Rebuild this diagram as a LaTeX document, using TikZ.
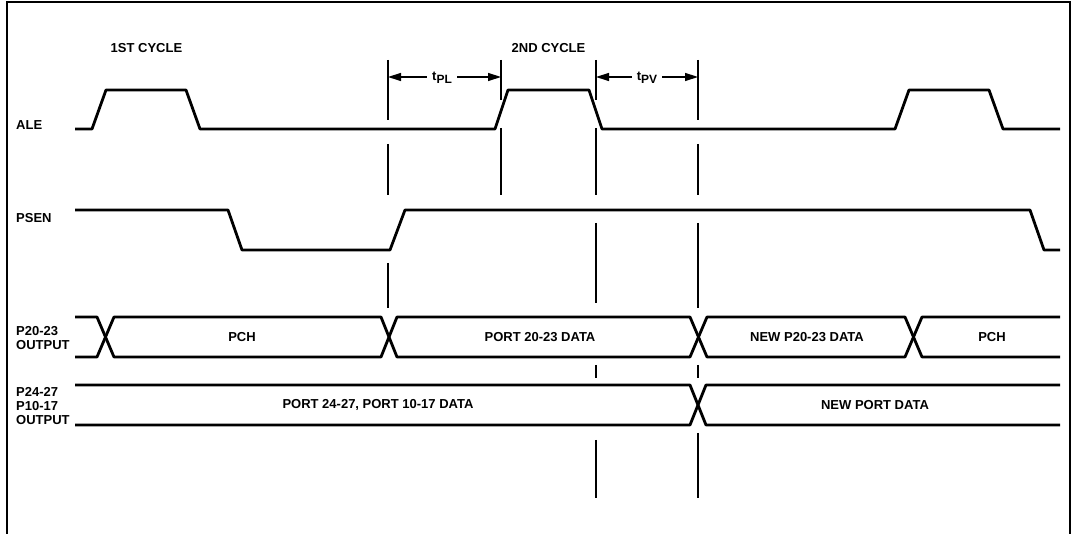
\documentclass[tikz,border=0pt]{standalone}
\usepackage{fontspec}
\setmainfont{Liberation Sans}
\usetikzlibrary{arrows.meta}
\begin{document}
\begin{tikzpicture}[x=1pt,y=-1pt,
  sig/.style={line width=2.8pt, line join=round, line cap=butt},
  vmark/.style={line width=1.5pt},
  frame/.style={line width=2.2pt},
  lbl/.style={font=\fontsize{13}{14}\selectfont\bfseries, inner sep=0pt},
  sidelbl/.style={lbl, anchor=west, align=left},
  dimarrow/.style={-{Triangle[length=13pt,width=8pt]}, line width=1.4pt}]
\useasboundingbox (0,0) rectangle (1072,534);
% frame
\draw[frame] (7,534) -- (7,2) -- (1070,2) -- (1070,534);

% signal names
\node[sidelbl] (ale)  at (16,125) {ALE};
\node[sidelbl] (psen) at (16,218) {PSEN};
\node[sidelbl] (p20)  at (16,338.5) {P20-23\\OUTPUT};
\node[sidelbl] (p24)  at (16,406) {P24-27\\P10-17\\OUTPUT};

% cycle labels
\node[lbl] (c1) at (146.5,48) {1ST CYCLE};
\node[lbl] (c2) at (548.5,48) {2ND CYCLE};

% ALE
\draw[sig] (75,129) -- (92,129) -- (106,90) -- (186,90) -- (200,129) -- (495,129) -- (508,90) -- (589,90) -- (602,129)
  -- (895,129) -- (909,90) -- (989,90) -- (1003,129) -- (1060,129);

% PSEN
\draw[sig] (75,210) -- (228,210) -- (242,250) -- (390,250) -- (405,210) -- (1030,210) -- (1044,250) -- (1060,250);

% P20-23 bus
\draw[sig] (75,317) -- (97,317) -- (114,357) -- (381,357) -- (397,317) -- (690,317) -- (707,357) -- (905,357) -- (922,317) -- (1060,317);
\draw[sig] (75,357) -- (97,357) -- (114,317) -- (381,317) -- (397,357) -- (690,357) -- (707,317) -- (905,317) -- (922,357) -- (1060,357);
\node[lbl] (pch1) at (242,337) {PCH};
\node[lbl] (d20)  at (540,337) {PORT 20-23 DATA};
\node[lbl] (n20)  at (807,337) {NEW P20-23 DATA};
\node[lbl] (pch2) at (992,337) {PCH};

% P24-27 / P10-17 bus
\draw[sig] (75,385) -- (690,385) -- (706,425) -- (1060,425);
\draw[sig] (75,425) -- (690,425) -- (706,385) -- (1060,385);
\node[lbl] (d24) at (378,405) {PORT 24-27, PORT 10-17 DATA};
\node[lbl] (np)  at (875,405) {NEW PORT DATA};

% vertical timing markers
\draw[vmark] (388,60) -- (388,120) (388,144) -- (388,195) (388,263) -- (388,308);
\draw[vmark] (501,60) -- (501,100) (501,128) -- (501,195);
\draw[vmark] (596,60) -- (596,100) (596,128) -- (596,195) (596,223) -- (596,303) (596,365) -- (596,378) (596,440) -- (596,498);
\draw[vmark] (698,60) -- (698,120) (698,144) -- (698,195) (698,223) -- (698,308) (698,365) -- (698,378) (698,433) -- (698,498);

% dimension arrows
\coordinate (pl1) at (388,77);
\coordinate (pl2) at (501,77);
\coordinate (pv1) at (596,77);
\coordinate (pv2) at (698,77);
\node[lbl, inner xsep=5pt] (tpl) at (442,78) {t\raisebox{-3.5pt}{\fontsize{12}{12}\selectfont PL}};
\node[lbl, inner xsep=5pt] (tpv) at (647,78) {t\raisebox{-3.5pt}{\fontsize{12}{12}\selectfont PV}};
\draw[dimarrow] (tpl.west |- pl1) -- (pl1);
\draw[dimarrow] (tpl.east |- pl2) -- (pl2);
\draw[dimarrow] (tpv.west |- pv1) -- (pv1);
\draw[dimarrow] (tpv.east |- pv2) -- (pv2);
\end{tikzpicture}
\end{document}
